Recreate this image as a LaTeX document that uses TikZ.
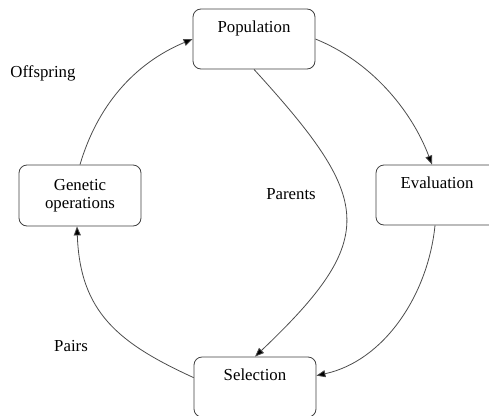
\documentclass[tikz,border=0pt]{standalone}
\usepackage{fontspec}
\setmainfont{Liberation Serif}
\usetikzlibrary{arrows.meta,calc}
\begin{document}
\begin{tikzpicture}[x=1pt,y=-1pt,
  every node/.style={font=\fontsize{16.8}{18.5}\selectfont, text=black},
  box/.style={draw=black!75, line width=0.8pt, rounded corners=8pt, fill=white,
    minimum width=122pt, inner sep=0pt},
  topbox/.style={box, text height=23pt, text depth=37pt},
  midbox/.style={box, minimum height=61pt, align=center},
  conn/.style={draw=black!70, line width=0.8pt, -{Triangle[length=9pt,width=7pt,fill=black]}},
  lbl/.style={inner sep=0pt}]
\useasboundingbox (0,0) rectangle (489,415);
\node[topbox] (pop) at (254,39) {Population};
\node[topbox] (eval) at (437,195) {Evaluation};
\node[midbox] (gen) at (80,195.5) {Genetic\\operations};
\node[topbox] (sel) at (255,387) {Selection};
\node[lbl] (off) at (43,73) {Offspring};
\node[lbl] (par) at (291,194) {Parents};
\node[lbl] (pai) at (71,346) {Pairs};
\draw[conn] (gen.north) .. controls (97,107) and (133,64) .. (pop.west);
\draw[conn] (pop.east) .. controls (370,61) and (411,109) .. ($(eval.north)+(-5,0)$);
\draw[conn] ($(eval.south)+(-2,0)$) .. controls (428,295) and (384,361) .. ($(sel.north east)+(0,19)$);
\draw[conn] ($(sel.north west)+(0,21)$) .. controls (118,343) and (80,312) .. ($(gen.south)+(-3,0)$);
\draw[conn] (pop.south) .. controls (372,199) and (381,237) .. (sel.north);
\end{tikzpicture}
\end{document}
